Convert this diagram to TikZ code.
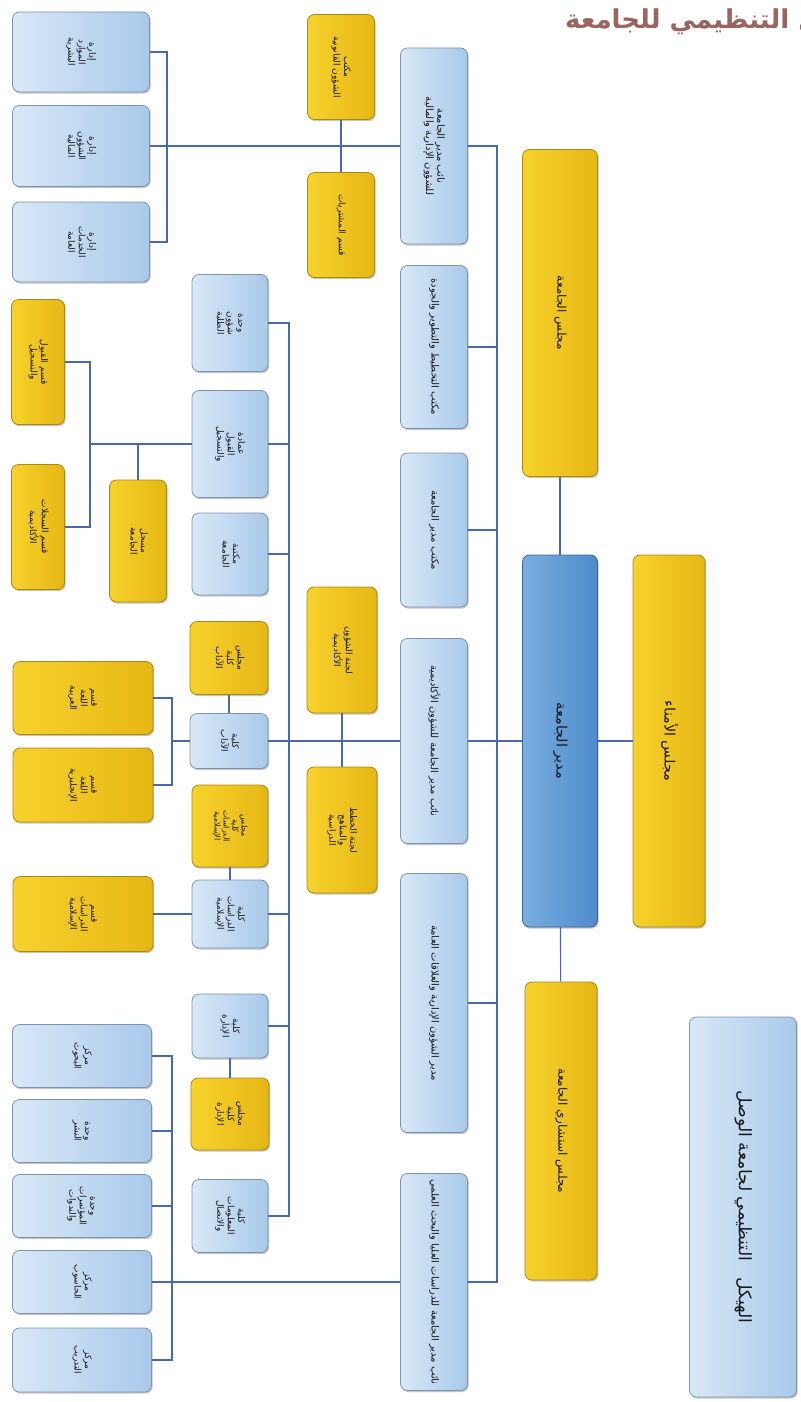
\documentclass[tikz,border=0pt]{standalone}
\usepackage{fontspec}
\usepackage{graphicx}
\usetikzlibrary{positioning,shadows}
\TeXXeTstate=1
\newfontfamily\arabicfont[Script=Arabic]{DejaVu Sans}

\definecolor{paleA}{HTML}{D8E8F7}
\definecolor{paleB}{HTML}{A9C9EA}
\definecolor{paleEdge}{HTML}{7D93AE}
\definecolor{goldA}{HTML}{F7D22C}
\definecolor{goldB}{HTML}{E6B714}
\definecolor{goldEdge}{HTML}{A88A12}
\definecolor{deepA}{HTML}{78AEE0}
\definecolor{deepB}{HTML}{4F8BCB}
\definecolor{deepEdge}{HTML}{3F6797}
\definecolor{wireC}{HTML}{4B67B0}
\definecolor{headC}{HTML}{9A6460}

\newcommand{\ar}[1]{\beginR #1\endR}
\newcommand{\vt}[1]{\rotatebox{-90}{\def\arraystretch{0.95}\begin{tabular}{@{}c@{}}#1\end{tabular}}}

\begin{document}
\begin{tikzpicture}[x=1pt,y=-1pt,
    box/.style={rounded corners=7pt, inner sep=1pt, line width=.8pt,
      drop shadow={shadow xshift=1.2pt, shadow yshift=-1.6pt, opacity=.45},
      font=\arabicfont\small, text=black!90},
    pale/.style={box, draw=paleEdge, left color=paleA, right color=paleB},
    gold/.style={box, draw=goldEdge, left color=goldA, right color=goldB},
    deep/.style={box, draw=deepEdge, left color=deepA, right color=deepB},
    sz/.style 2 args={minimum width=#1, minimum height=#2},
    wire/.style={draw=wireC, line width=1.1pt}]
  \fill[white] (0,0) rectangle (800,1402);
  \useasboundingbox (0,0) rectangle (800,1402);

  % heading, cut by the page edge
  \node[anchor=west, inner sep=0, text=headC,
    font=\arabicfont\bfseries\fontsize{26}{30}\selectfont] (heading) at (565,22)
    {\ar{الهيكل التنظيمي للجامعة}};

  % top levels
  \node[gold, sz={72}{372}, font=\arabicfont\Large] (trustees) at (669,741)
    {\vt{\ar{مجلس الأمناء}}};
  \node[deep, sz={75}{372}, font=\arabicfont\Large] (director) at (560,741)
    {\vt{\ar{مدير الجامعة}}};
  \node[gold, sz={75}{327}, font=\arabicfont\large] (council) at (560,313)
    {\vt{\ar{مجلس الجامعة}}};
  \node[gold, sz={72}{298}, font=\arabicfont\large] (advisory) at (561,1131)
    {\vt{\ar{مجلس استشاري الجامعة}}};
  \node[pale, sz={107}{380}, font=\arabicfont\LARGE] (chart) at (743,1207)
    {\vt{\ar{الهيكل \ \ التنظيمي لجامعة الوصل}}};

  % second level
  \node[pale, sz={67}{196}, font=\arabicfont\normalsize] (vpadmin) at (434,146)
    {\vt{\ar{نائب مدير الجامعة}\\ \ar{للشؤون الإدارية والمالية}}};
  \node[pale, sz={67}{163}, font=\arabicfont\normalsize] (planning) at (434,347)
    {\vt{\ar{مكتب التخطيط والتطوير والجودة}}};
  \node[pale, sz={67}{154}, font=\arabicfont\normalsize] (office) at (434,530)
    {\vt{\ar{مكتب مدير الجامعة}}};
  \node[pale, sz={67}{205}, font=\arabicfont\normalsize] (vpacad) at (434,741)
    {\vt{\ar{نائب مدير الجامعة للشؤون الأكاديمية}}};
  \node[pale, sz={67}{259}, font=\arabicfont\normalsize] (affairs) at (434,1003)
    {\vt{\ar{مدير الشؤون الإدارية والعلاقات العامة}}};
  \node[pale, sz={67}{217}, font=\arabicfont\normalsize] (vpgrad) at (434,1282)
    {\vt{\ar{نائب مدير الجامعة للدراسات العليا والبحث العلمي}}};

  % under the admin vice president
  \node[gold, sz={67}{105}] (legal) at (341,67)
    {\vt{\ar{مكتب}\\ \ar{الشؤون القانونية}}};
  \node[gold, sz={67}{105}] (purchase) at (341,225)
    {\vt{\ar{قسم المشتريات}}};
  \node[pale, sz={137}{80}] (staff) at (81,52)
    {\vt{\ar{إدارة}\\ \ar{الموارد}\\ \ar{البشرية}}};
  \node[pale, sz={137}{81}] (finance) at (81,146)
    {\vt{\ar{إدارة}\\ \ar{الشؤون}\\ \ar{المالية}}};
  \node[pale, sz={137}{80}] (services) at (81,242)
    {\vt{\ar{إدارة}\\ \ar{الخدمات}\\ \ar{العامة}}};

  % under the academic vice president
  \node[gold, sz={70}{126}] (cttee) at (342,650)
    {\vt{\ar{لجنة الشؤون}\\ \ar{الأكاديمية}}};
  \node[gold, sz={70}{126}] (plans) at (342,830)
    {\vt{\ar{لجنة الخطط}\\ \ar{والمناهج}\\ \ar{الدراسية}}};
  \node[pale, sz={76}{97}] (students) at (230,323)
    {\vt{\ar{وحدة}\\ \ar{شؤون}\\ \ar{الطلبة}}};
  \node[pale, sz={76}{107}] (admission) at (230,444)
    {\vt{\ar{عمادة}\\ \ar{القبول}\\ \ar{والتسجيل}}};
  \node[pale, sz={76}{82}] (library) at (230,554)
    {\vt{\ar{مكتبة}\\ \ar{الجامعة}}};
  \node[gold, sz={78}{73}] (artsboard) at (229,658)
    {\vt{\ar{مجلس}\\ \ar{كلية}\\ \ar{الآداب}}};
  \node[pale, sz={78}{55}] (arts) at (229,741)
    {\vt{\ar{كلية}\\ \ar{الآداب}}};
  \node[gold, sz={76}{82}, font=\arabicfont\footnotesize] (islboard) at (230,826)
    {\vt{\ar{مجلس}\\ \ar{كلية}\\ \ar{الدراسات}\\ \ar{الإسلامية}}};
  \node[pale, sz={76}{68}] (islamic) at (230,914)
    {\vt{\ar{كلية}\\ \ar{الدراسات}\\ \ar{الإسلامية}}};
  \node[pale, sz={76}{64}] (business) at (230,1026)
    {\vt{\ar{كلية}\\ \ar{الإدارة}}};
  \node[gold, sz={78}{72}] (busboard) at (230,1114)
    {\vt{\ar{مجلس}\\ \ar{كلية}\\ \ar{الإدارة}}};
  \node[pale, sz={76}{73}] (media) at (230,1216)
    {\vt{\ar{كلية}\\ \ar{المعلومات}\\ \ar{والاتصال}}};

  \node[gold, sz={53}{125}] (admit) at (38,362)
    {\vt{\ar{قسم القبول}\\ \ar{والتسجيل}}};
  \node[gold, sz={53}{125}] (records) at (38,527)
    {\vt{\ar{قسم السجلات}\\ \ar{الأكاديمية}}};
  \node[gold, sz={57}{122}] (registrar) at (138,541)
    {\vt{\ar{مسجل}\\ \ar{الجامعة}}};
  \node[gold, sz={140}{73}] (arabic) at (83,698)
    {\vt{\ar{قسم}\\ \ar{اللغة}\\ \ar{العربية}}};
  \node[gold, sz={140}{74}] (english) at (83,785)
    {\vt{\ar{قسم}\\ \ar{اللغة}\\ \ar{الإنجليزية}}};
  \node[gold, sz={140}{75}] (sharia) at (83,914)
    {\vt{\ar{قسم}\\ \ar{الدراسات}\\ \ar{الإسلامية}}};

  % under the graduate vice president
  \node[pale, sz={139}{63}] (research) at (82,1056)
    {\vt{\ar{مركز}\\ \ar{البحوث}}};
  \node[pale, sz={139}{63}] (publish) at (82,1131)
    {\vt{\ar{وحدة}\\ \ar{النشر}}};
  \node[pale, sz={139}{63}] (events) at (82,1206)
    {\vt{\ar{وحدة}\\ \ar{المؤتمرات}\\ \ar{والندوات}}};
  \node[pale, sz={139}{63}] (computing) at (82,1282)
    {\vt{\ar{مركز}\\ \ar{الحاسوب}}};
  \node[pale, sz={139}{64}] (training) at (82,1360)
    {\vt{\ar{مركز}\\ \ar{التدريب}}};

  % bus lines
  \coordinate (mainbus) at (497,0);
  \coordinate (acadbus) at (289,0);
  \coordinate (adminbrk) at (167,0);
  \coordinate (regbrk) at (90,0);
  \coordinate (artsbrk) at (172,0);
  \coordinate (gradbrk) at (172,0);

  \path[wire] (trustees) -- (director);
  \path[wire] (council) -- (director);
  \path[wire] (director) -- (advisory);
  \path[wire] (director.west) -- (vpacad.east);
  \path[wire] (vpadmin.east) -- (vpadmin.east -| mainbus)
    -- (vpgrad.east -| mainbus) -- (vpgrad.east);
  \foreach \n in {planning,office,affairs}
    \path[wire] (\n.east) -- (\n.east -| mainbus);

  \path[wire] (vpadmin.west) -- (finance.east);
  \path[wire] (legal) -- (purchase);
  \path[wire] (staff.east) -- (staff.east -| adminbrk)
    -- (services.east -| adminbrk) -- (services.east);

  \path[wire] (vpacad.west) -- (arts.east);
  \path[wire] (cttee) -- (plans);
  \path[wire] (students.east) -- (students.east -| acadbus)
    -- (media.east -| acadbus) -- (media.east);
  \foreach \n in {admission,library,islamic,business}
    \path[wire] (\n.east) -- (\n.east -| acadbus);
  \path[wire] (artsboard) -- (arts);
  \path[wire] (islboard) -- (islamic);
  \path[wire] (business) -- (busboard);
  \path[wire] (admission.west) -- (admission.west -| regbrk);
  \path[wire] (admit.east) -- (admit.east -| regbrk)
    -- (records.east -| regbrk) -- (records.east);
  \path[wire] (registrar.north) -- (registrar.north |- admission.west);
  \path[wire] (arts.west) -- (arts.west -| artsbrk);
  \path[wire] (arabic.east) -- (arabic.east -| artsbrk)
    -- (english.east -| artsbrk) -- (english.east);
  \path[wire] (islamic.west) -- (sharia.east);

  \path[wire] (vpgrad.west) -- (computing.east);
  \path[wire] (research.east) -- (research.east -| gradbrk)
    -- (training.east -| gradbrk) -- (training.east);
  \foreach \n in {publish,events}
    \path[wire] (\n.east) -- (\n.east -| gradbrk);
\end{tikzpicture}
\end{document}
